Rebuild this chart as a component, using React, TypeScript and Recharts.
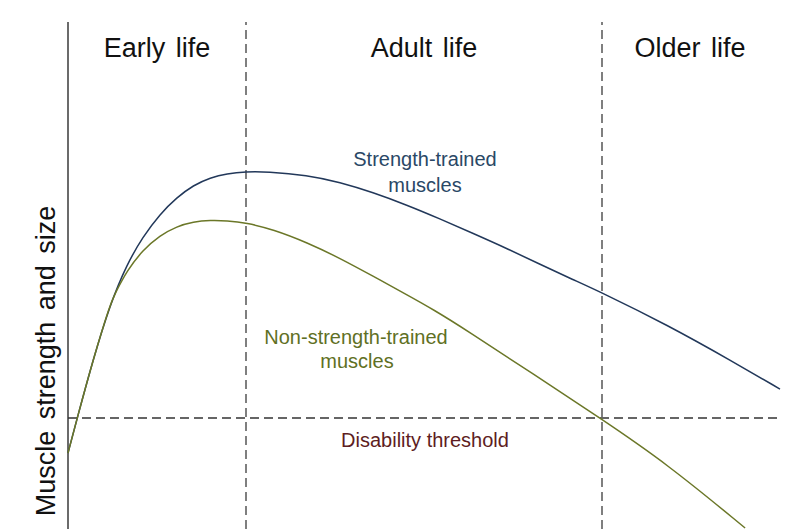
import { LineChart, Line, XAxis, YAxis, ReferenceLine } from 'recharts'

// life stage boundaries and labels (age scale 0..100)
const stages = ['Early life', 'Adult life', 'Older life']
const stageBounds = [0, 25, 75, 100]
const disabilityThreshold = 21.9

// strength-trained muscles
const trainedAge = [0, 1.3, 3.5, 5.9, 8.3, 10.5, 12.9, 15.3, 17.6, 20, 22.3, 25, 27.9, 33.6, 38.2, 42.8, 47.6, 52.2, 56.9, 61.7, 66.3, 70.9, 75, 84.1, 93.4, 100]
const trainedValue = [15, 21.9, 33.3, 44.3, 52.3, 57.6, 62.1, 65.4, 67.8, 69.3, 70.1, 70.5, 70.5, 69.8, 68.4, 66.4, 63.9, 61.2, 58.3, 55.3, 52.2, 49.2, 46.6, 40.3, 33.0, 27.6]

// non-strength-trained muscles
const untrainedAge = [0, 1.3, 3.5, 5.9, 6.6, 8.3, 10.5, 12.9, 15.3, 17.6, 20, 22.3, 25, 28.8, 33.6, 38.2, 42.8, 47.6, 51.3, 56, 65.3, 74.7, 84.1, 95.1]
const untrainedValue = [15, 21.9, 33.3, 44.3, 46.4, 51.0, 55.0, 57.9, 59.7, 60.6, 60.9, 60.8, 60.4, 59.1, 56.5, 53.4, 49.9, 46.2, 43.3, 39.2, 30.6, 21.9, 12.9, 0.2]

const trainedData = trainedAge.map((age, i) => ({ age, value: trainedValue[i] }))
const untrainedData = untrainedAge.map((age, i) => ({ age, value: untrainedValue[i] }))

const FONT = '"Liberation Sans", Arial, sans-serif'
const W = 800
const H = 529

export default function App() {
  return (
    <div style={{ position: 'absolute', left: 0, top: 0, width: W, height: H, background: '#fff', fontFamily: FONT }}>
      <LineChart width={W} height={H} margin={{ top: 22, right: 20, left: 68, bottom: 0 }}>
        <XAxis type="number" dataKey="age" domain={[0, 100]} hide />
        <YAxis type="number" dataKey="value" domain={[0, 100]} hide allowDataOverflow />

        {/* y axis line */}
        <ReferenceLine x={0} stroke="#3a3a3a" strokeWidth={1.5} />
        {/* stage dividers */}
        {stageBounds.slice(1, -1).map((b) => (
          <ReferenceLine key={b} x={b} stroke="#555" strokeWidth={1.5} strokeDasharray="9 5" />
        ))}
        <ReferenceLine y={disabilityThreshold} stroke="#333" strokeWidth={1.5} strokeDasharray="9 5" />

        <Line data={trainedData} dataKey="value" type="basis" stroke="#22385a" strokeWidth={1.5} dot={false} isAnimationActive={false} />
        <Line data={untrainedData} dataKey="value" type="basis" stroke="#6b7728" strokeWidth={1.5} dot={false} isAnimationActive={false} />
      </LineChart>

      {/* text overlay */}
      <svg width={W} height={H} style={{ position: 'absolute', left: 0, top: 0, pointerEvents: 'none' }} fontFamily={FONT}>
        <g fontSize={27} fill="#111" textAnchor="middle" style={{ wordSpacing: 3 }}>
          <text x={157} y={57}>{stages[0]}</text>
          <text x={424} y={57}>{stages[1]}</text>
          <text x={690} y={57}>{stages[2]}</text>
        </g>
        <text x={55} y={361} fontSize={27} fill="#111" textAnchor="middle" transform="rotate(-90 55 361)" style={{ wordSpacing: 4 }}>
          Muscle strength and size
        </text>
        <g fontSize={20} textAnchor="middle">
          <text x={425} y={166} fill="#2a4866">Strength-trained</text>
          <text x={425} y={192} fill="#2a4866">muscles</text>
          <text x={356} y={344} fill="#5f7024">Non-strength-trained</text>
          <text x={357} y={368} fill="#5f7024">muscles</text>
          <text x={425} y={447} fill="#5e1d22">Disability threshold</text>
        </g>
      </svg>
    </div>
  )
}
